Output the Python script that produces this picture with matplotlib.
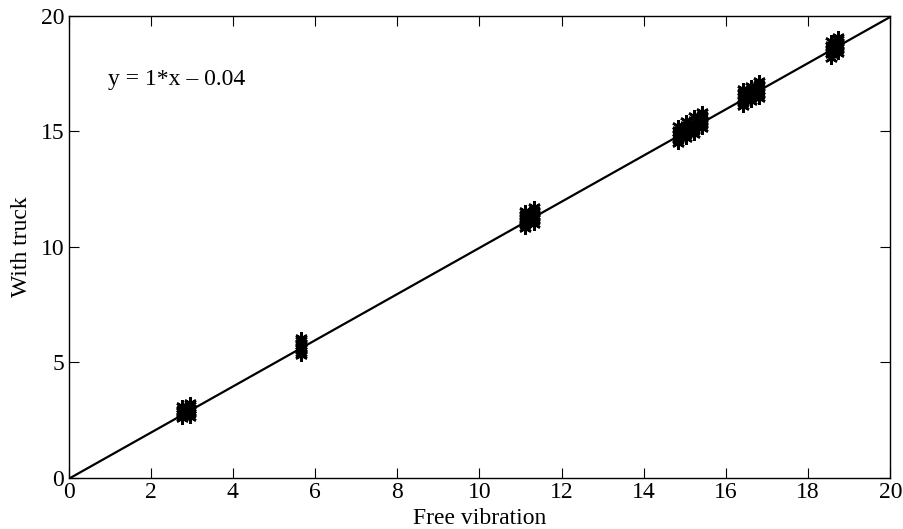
import matplotlib.pyplot as plt
import numpy as np

plt.rcParams['font.family'] = ['Liberation Serif', 'DejaVu Serif']

# measured frequencies (Hz): free vibration vs with truck on the bridge
free_x = [2.75, 2.75, 2.75, 2.75, 2.75, 2.75,
          2.95, 2.95, 2.95, 2.95, 2.95, 2.95, 2.95,
          5.66, 5.66, 5.66, 5.66, 5.66, 5.66, 5.66, 5.66,
          11.10, 11.10, 11.10, 11.10, 11.10, 11.10, 11.10,
          11.32, 11.32, 11.32, 11.32, 11.32, 11.32, 11.32,
          14.83, 14.83, 14.83, 14.83, 14.83, 14.83,
          15.02, 15.02, 15.02, 15.02, 15.02, 15.02,
          15.22, 15.22, 15.22, 15.22, 15.22, 15.22,
          15.41, 15.41, 15.41, 15.41, 15.41, 15.41,
          16.41, 16.41, 16.41, 16.41, 16.41, 16.41,
          16.61, 16.61, 16.61, 16.61, 16.61, 16.61,
          16.80, 16.80, 16.80, 16.80, 16.80, 16.80,
          18.55, 18.55, 18.55, 18.55, 18.55, 18.55,
          18.72, 18.72, 18.72, 18.72, 18.72, 18.72, 18.72]
truck_y = [2.60, 2.70, 2.80, 2.90, 3.00, 3.10,
           2.65, 2.75, 2.85, 2.95, 3.05, 3.15, 3.25,
           5.32, 5.42, 5.52, 5.62, 5.72, 5.84, 5.96, 6.08,
           10.82, 10.94, 11.06, 11.18, 11.30, 11.42, 11.56,
           11.00, 11.12, 11.24, 11.36, 11.48, 11.60, 11.72,
           14.50, 14.64, 14.78, 14.94, 15.08, 15.24,
           14.70, 14.84, 14.98, 15.14, 15.30, 15.45,
           14.90, 15.04, 15.18, 15.34, 15.50, 15.66,
           15.15, 15.28, 15.42, 15.56, 15.70, 15.84,
           16.10, 16.25, 16.40, 16.55, 16.70, 16.84,
           16.30, 16.44, 16.58, 16.72, 16.84, 16.96,
           16.45, 16.60, 16.74, 16.88, 17.04, 17.18,
           18.20, 18.34, 18.48, 18.62, 18.76, 18.90,
           18.40, 18.52, 18.64, 18.76, 18.88, 19.00, 19.10]

slope = 1.0
offset = -0.04
fit_x = [0, 20]

fig = plt.figure(figsize=(9.04, 5.29), dpi=100)
ax = fig.add_axes([0.0758, 0.0964, 0.909, 0.8734])

ax.plot(free_x, truck_y, linestyle='none', marker=(6, 2, 0), markersize=9,
        markeredgewidth=1.8, color='black')
ax.plot(fit_x, [slope * v + offset for v in fit_x], color='black', lw=1.6)

ax.set_xlim(0, 20)
ax.set_ylim(0, 20)
ax.set_xticks(np.arange(0, 21, 2))
ax.set_yticks([0, 5, 10, 15, 20])
ax.tick_params(direction='in', top=True, right=True, labelsize=17, length=7,
               width=0.8, pad=3)
for s in ax.spines.values():
    s.set_linewidth(1.0)

ax.set_xlabel('Free vibration', fontsize=17)
ax.xaxis.set_label_coords(0.5, -0.065)
ax.set_ylabel('With truck', fontsize=17, labelpad=6)
ax.text(0.97, 17.0, 'y = 1*x \u2013 0.04', fontsize=17, va='baseline')

fig.savefig('out.png', dpi=100)
